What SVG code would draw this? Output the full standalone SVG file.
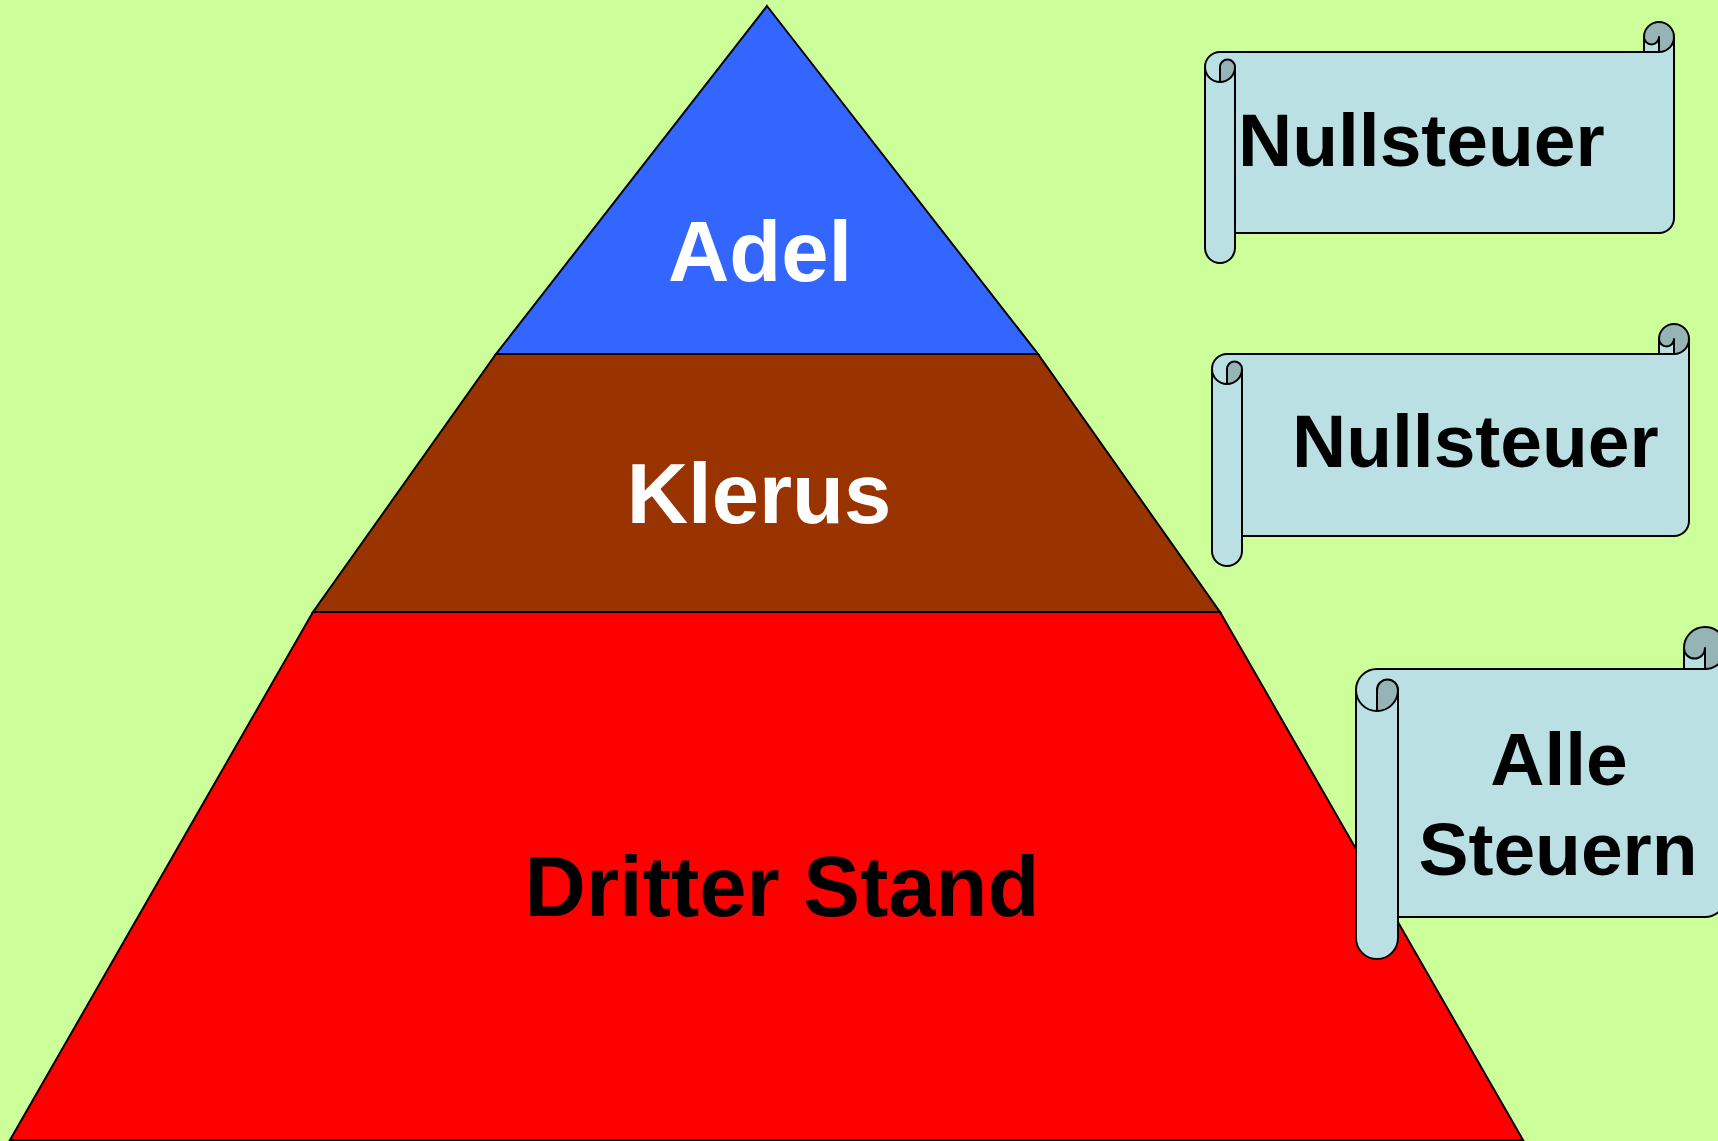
<svg xmlns="http://www.w3.org/2000/svg" width="1718" height="1141" viewBox="0 0 1718 1141">
<style>
.tier{stroke:#000;stroke-width:2;stroke-linejoin:miter}
.lbl{font-family:"Liberation Sans",Arial,sans-serif;font-weight:bold;font-size:85px;text-anchor:middle}
.scr{font-family:"Liberation Sans",Arial,sans-serif;font-weight:bold;font-size:75px}
.light{fill:#BBE0E3;stroke:none}
.dark{fill:#96B3B6;stroke:none}
.outl{fill:none;stroke:#000;stroke-width:2;stroke-linejoin:round}
</style>
<rect x="0" y="0" width="1718" height="1141" fill="#CCFF99"/>
<g id="dritter-stand">
<polygon class="tier" points="313,612 1220,612 1523,1140 10,1140" fill="#FF0000"/>
<text class="lbl" x="782" y="916" fill="#000">Dritter Stand</text>
</g>
<g id="klerus">
<polygon class="tier" points="496,354 1038,354 1220,612 313,612" fill="#993300"/>
<text class="lbl" x="759" y="523" fill="#FFF">Klerus</text>
</g>
<g id="adel">
<polygon class="tier" points="767,6 1038,354 496,354" fill="#3366FF"/>
<text class="lbl" x="760" y="281" fill="#FFF">Adel</text>
</g>
<g id="scroll-adel">
<path class="light" d="M1205,67 A15,15 0 0 1 1220,52 L1644,52 L1644,37 A7.5,7.5 0 0 0 1659,37 L1659,52 A15,15 0 0 0 1674,37 L1674,218 A15,15 0 0 1 1659,233 L1235,233 L1235,248 A15,15 0 0 1 1205,248 Z"/>
<path class="dark" d="M1659,52 A15,15 0 1 0 1644,37 A7.5,7.5 0 0 0 1659,37 Z M1220,82 A15,15 0 0 0 1235,67 A7.5,7.5 0 0 0 1220,67 Z"/>
<path class="outl" d="M1205,67 A15,15 0 0 1 1220,52 L1644,52 L1644,37 A15,15 0 0 1 1674,37 L1674,218 A15,15 0 0 1 1659,233 L1235,233 L1235,248 A15,15 0 0 1 1205,248 Z M1644,52 L1659,52 A15,15 0 0 0 1674,37 M1659,52 L1659,37 A7.5,7.5 0 0 1 1644,37 M1220,82 L1220,67 A7.5,7.5 0 0 1 1235,67 A15,15 0 0 1 1205,67 M1235,67 L1235,233"/>
<text class="scr" x="1238" y="166" fill="#000">Nullsteuer</text>
</g>
<g id="scroll-klerus">
<path class="light" d="M1212,369 A15,15 0 0 1 1227,354 L1659,354 L1659,339 A7.5,7.5 0 0 0 1674,339 L1674,354 A15,15 0 0 0 1689,339 L1689,521 A15,15 0 0 1 1674,536 L1242,536 L1242,551 A15,15 0 0 1 1212,551 Z"/>
<path class="dark" d="M1674,354 A15,15 0 1 0 1659,339 A7.5,7.5 0 0 0 1674,339 Z M1227,384 A15,15 0 0 0 1242,369 A7.5,7.5 0 0 0 1227,369 Z"/>
<path class="outl" d="M1212,369 A15,15 0 0 1 1227,354 L1659,354 L1659,339 A15,15 0 0 1 1689,339 L1689,521 A15,15 0 0 1 1674,536 L1242,536 L1242,551 A15,15 0 0 1 1212,551 Z M1659,354 L1674,354 A15,15 0 0 0 1689,339 M1674,354 L1674,339 A7.5,7.5 0 0 1 1659,339 M1227,384 L1227,369 A7.5,7.5 0 0 1 1242,369 A15,15 0 0 1 1212,369 M1242,369 L1242,536"/>
<text class="scr" x="1292" y="467" fill="#000">Nullsteuer</text>
</g>
<g id="scroll-dritter">
<path class="light" d="M1356,690 A21,21 0 0 1 1377,669 L1684,669 L1684,648 A10.5,10.5 0 0 0 1705,648 L1705,669 A21,21 0 0 0 1726,648 L1726,896 A21,21 0 0 1 1705,917 L1398,917 L1398,938 A21,21 0 0 1 1356,938 Z"/>
<path class="dark" d="M1705,669 A21,21 0 1 0 1684,648 A10.5,10.5 0 0 0 1705,648 Z M1377,711 A21,21 0 0 0 1398,690 A10.5,10.5 0 0 0 1377,690 Z"/>
<path class="outl" d="M1356,690 A21,21 0 0 1 1377,669 L1684,669 L1684,648 A21,21 0 0 1 1726,648 L1726,896 A21,21 0 0 1 1705,917 L1398,917 L1398,938 A21,21 0 0 1 1356,938 Z M1684,669 L1705,669 A21,21 0 0 0 1726,648 M1705,669 L1705,648 A10.5,10.5 0 0 1 1684,648 M1377,711 L1377,690 A10.5,10.5 0 0 1 1398,690 A21,21 0 0 1 1356,690 M1398,690 L1398,917"/>
<text class="scr" x="1559" y="785" fill="#000" text-anchor="middle">Alle</text>
<text class="scr" x="1558" y="875" fill="#000" text-anchor="middle">Steuern</text>
</g>
<g id="connectors"></g>
</svg>
